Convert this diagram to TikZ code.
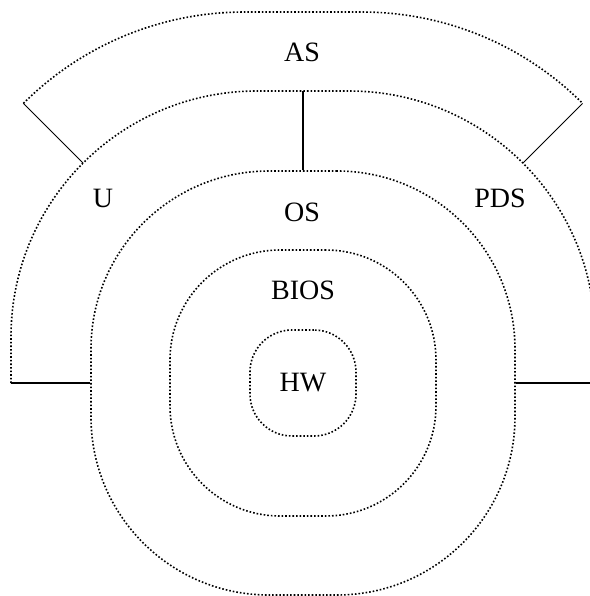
\documentclass[tikz,border=0pt]{standalone}
\usepackage{fontspec}
\setmainfont{Liberation Serif}
\usepackage{tikz}
\usetikzlibrary{positioning}

\begin{document}
\begin{tikzpicture}[x=0.5pt,y=0.5pt]
    \tikzstyle{ring}=[draw, densely dotted, line width=0.8pt, inner sep=0pt];
    \tikzstyle{bar}=[line width=1pt];
    \tikzstyle{tie}=[line width=0.45pt];
    \tikzstyle{lbl}=[font=\fontsize{14}{17}\selectfont];

    \useasboundingbox (-303,-213) rectangle (287,383);
    \clip (-303,-213) rectangle (287,383);

    % inner rings, all round the same centre
    \foreach \name/\size/\rad in {hw/53/21, bios/133/55, os/212/89} {
        \node[ring, minimum size=\size pt, rounded corners=\rad pt] (\name) at (0,0) {};
    }

    % open outer ring and the top arc
    \coordinate (ul) at (-292,0);
    \coordinate (ur) at (292,0);
    \coordinate (utop) at (0,292);
    \draw[ring, rounded corners=123pt] (ul) -- (-292,292) -- (292,292) -- (ur);

    \coordinate (asl) at (135:395.4);
    \coordinate (asr) at (45:395.4);
    \draw[ring] (asl) arc[start angle=135, end angle=90, radius=156pt]
        -- ++(118,0) arc[start angle=90, end angle=45, radius=156pt];

    \coordinate (uil) at (135:311.1);
    \coordinate (uir) at (45:311.1);
    \draw[tie] (asl) -- (uil);
    \draw[tie] (asr) -- (uir);

    \coordinate (edge) at (287,0);
    \draw[bar] (utop) -- (os.north);
    \draw[bar] (ul) -- (os.west);
    \draw[bar] (os.east) -- (edge);

    \node[lbl] (as) at (-1,331) {AS};
    \node[lbl] (u) at (-200,185) {U};
    \node[lbl] (pds) at (197,185) {PDS};
    \node[lbl] (osl) at (-1,171) {OS};
    \node[lbl] (biosl) at (0,93) {BIOS};
    \node[lbl] at (hw) {HW};
\end{tikzpicture}
\end{document}
